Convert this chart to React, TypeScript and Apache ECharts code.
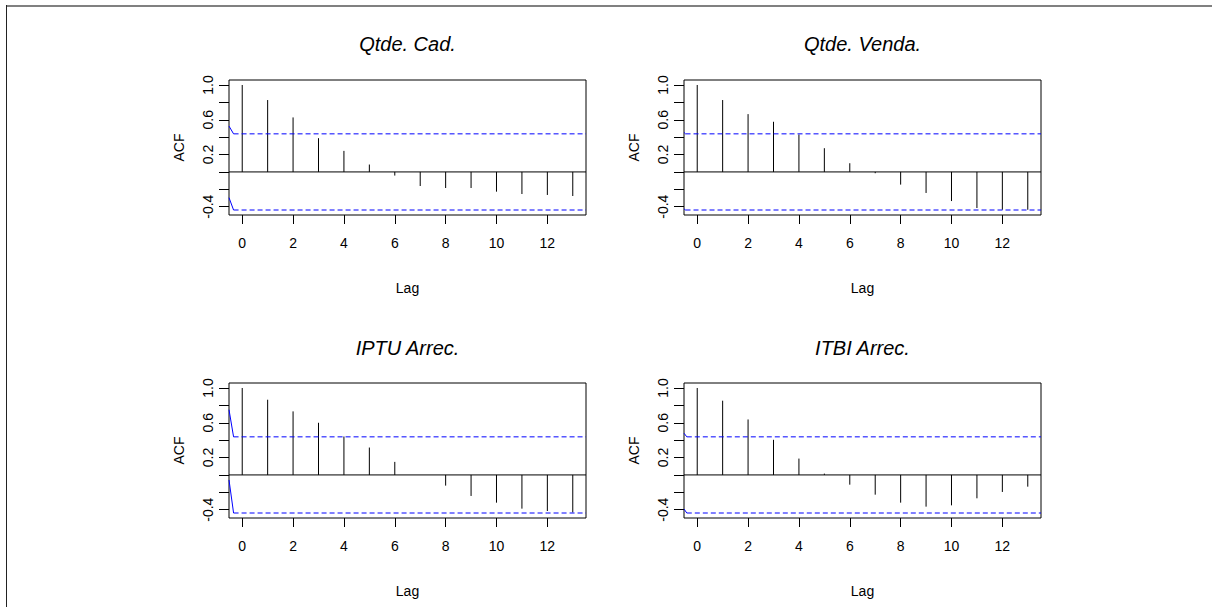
import React, { useEffect, useRef } from "react";
import * as echarts from "echarts";

// ---- data ----
const lags = [0, 1, 2, 3, 4, 5, 6, 7, 8, 9, 10, 11, 12, 13];
const panelTitles = ["Qtde. Cad.", "Qtde. Venda.", "IPTU Arrec.", "ITBI Arrec."];
const acfQtdeCad = [1.0, 0.827, 0.627, 0.388, 0.242, 0.085, -0.042, -0.162, -0.185, -0.185, -0.227, -0.254, -0.265, -0.277];
const acfQtdeVenda = [1.0, 0.827, 0.665, 0.577, 0.431, 0.273, 0.1, -0.015, -0.146, -0.242, -0.335, -0.415, -0.435, -0.435];
const acfIptu = [1.0, 0.865, 0.731, 0.6, 0.442, 0.315, 0.15, 0.0, -0.123, -0.242, -0.319, -0.388, -0.415, -0.431];
const acfItbi = [1.0, 0.854, 0.638, 0.404, 0.188, 0.015, -0.112, -0.227, -0.319, -0.365, -0.35, -0.269, -0.196, -0.135];
const panelAcf = [acfQtdeCad, acfQtdeVenda, acfIptu, acfItbi];
const confLimit = 0.438;
// blue bound lines: value at the left edge and lag where they reach the limit
const upperStart = [0.527, 0.455, 0.75, 0.48];
const lowerStart = [-0.296, -0.425, -0.058, -0.392];
const bendLag = [-0.34, -0.46, -0.34, -0.41];
const xMin = -0.52;
const xMax = 13.52;
const yMin = -0.4955;
const yMax = 1.0575;
const xTicks = [0, 2, 4, 6, 8, 10, 12];
const yTicks = [-0.4, -0.2, 0, 0.2, 0.4, 0.6, 0.8, 1.0];
const yLabels = [-0.4, 0.2, 0.6, 1.0];

const FONT = "'Liberation Sans', Arial, Helvetica, sans-serif";

const gridBoxes = [
  { left: 229, top: 80 },
  { left: 684, top: 80 },
  { left: 229, top: 383 },
  { left: 684, top: 383 },
];
const GW = 357;
const GH = 135;

export default function App() {
  const ref = useRef<HTMLDivElement>(null);
  useEffect(() => {
    if (!ref.current) return;
    const chart = echarts.init(ref.current, undefined, { renderer: "svg" });

    const grid = gridBoxes.map((g) => ({
      left: g.left,
      top: g.top,
      width: GW,
      height: GH,
      show: true,
      borderColor: "#000",
      borderWidth: 1,
      backgroundColor: "transparent",
      containLabel: false,
    }));

    const xAxis = gridBoxes.map((_, i) => ({
      type: "value",
      gridIndex: i,
      min: xMin,
      max: xMax,
      position: "bottom",
      axisLine: { show: false, onZero: false },
      splitLine: { show: false },
      axisTick: { show: true, inside: false, length: 9, customValues: xTicks, lineStyle: { color: "#000", width: 1 } },
      axisLabel: {
        customValues: xTicks,
        margin: 21,
        fontSize: 14,
        color: "#000",
        fontFamily: FONT,
      },
      name: "Lag",
      nameLocation: "middle",
      nameGap: 66,
      nameTextStyle: { fontSize: 14, color: "#000", fontFamily: FONT },
    }));

    const yAxis = gridBoxes.map((_, i) => ({
      type: "value",
      gridIndex: i,
      min: yMin,
      max: yMax,
      position: "left",
      axisLine: { show: false, onZero: false },
      splitLine: { show: false },
      axisTick: { show: true, inside: false, length: 10, customValues: yTicks, lineStyle: { color: "#000", width: 1 } },
      axisLabel: {
        customValues: yLabels,
        rotate: 90,
        margin: 14,
        fontSize: 14,
        color: "#000",
        fontFamily: FONT,
        formatter: (v: number) => v.toFixed(1),
      },
      name: "ACF",
      nameLocation: "middle",
      nameGap: 43,
      nameTextStyle: { fontSize: 14, color: "#000", fontFamily: FONT },
    }));

    const series: any[] = [];
    panelAcf.forEach((vals, i) => {
      // zero line
      series.push({
        type: "line",
        xAxisIndex: i,
        yAxisIndex: i,
        data: [[xMin, 0], [xMax, 0]],
        symbol: "none",
        lineStyle: { color: "#000", width: 1 },
        silent: true,
      });
      // acf spikes
      series.push({
        type: "custom",
        xAxisIndex: i,
        yAxisIndex: i,
        data: lags.map((l, k) => [l, vals[k]]),
        renderItem: (_p: any, api: any) => {
          const x = api.value(0);
          const y = api.value(1);
          const p0 = api.coord([x, 0]);
          const p1 = api.coord([x, y]);
          return {
            type: "line",
            shape: { x1: p0[0], y1: p0[1], x2: p1[0], y2: p1[1] },
            style: { stroke: "#000", lineWidth: 1 },
          };
        },
        silent: true,
      });
      // blue bounds: short solid lead-in + dashed limit line
      [
        [upperStart[i], confLimit],
        [lowerStart[i], -confLimit],
      ].forEach(([start, lim]) => {
        series.push({
          type: "line",
          xAxisIndex: i,
          yAxisIndex: i,
          data: [[xMin, start], [bendLag[i], lim]],
          symbol: "none",
          lineStyle: { color: "#0000ff", width: 1 },
          silent: true,
        });
        series.push({
          type: "line",
          xAxisIndex: i,
          yAxisIndex: i,
          data: [[bendLag[i], lim], [xMax, lim]],
          symbol: "none",
          lineStyle: { color: "#0000ff", width: 1, type: [5, 3] },
          silent: true,
        });
      });
    });

    const titleY = [44, 44, 348, 348];
    const graphic: any[] = gridBoxes.map((g, i) => ({
      type: "text",
      x: g.left + GW / 2,
      y: titleY[i],
      style: {
        text: panelTitles[i],
        font: `italic 20px ${FONT}`,
        fill: "#000",
        align: "center",
        verticalAlign: "middle",
      },
    }));

    chart.setOption({
      animation: false,
      backgroundColor: "#fff",
      grid,
      xAxis,
      yAxis,
      series,
      graphic,
    } as any);

    return () => chart.dispose();
  }, []);

  return (
    <div style={{ position: "fixed", left: 0, top: 0, width: 1216, height: 607, background: "#fff", overflow: "hidden" }}>
      <div ref={ref} style={{ position: "absolute", left: 0, top: 0, width: 1216, height: 607 }} />
      <div style={{ position: "absolute", left: 6, top: 5, width: 1206, height: 2, background: "#808080" }} />
      <div style={{ position: "absolute", left: 6, top: 5, width: 1, height: 602, background: "#222" }} />
    </div>
  );
}
